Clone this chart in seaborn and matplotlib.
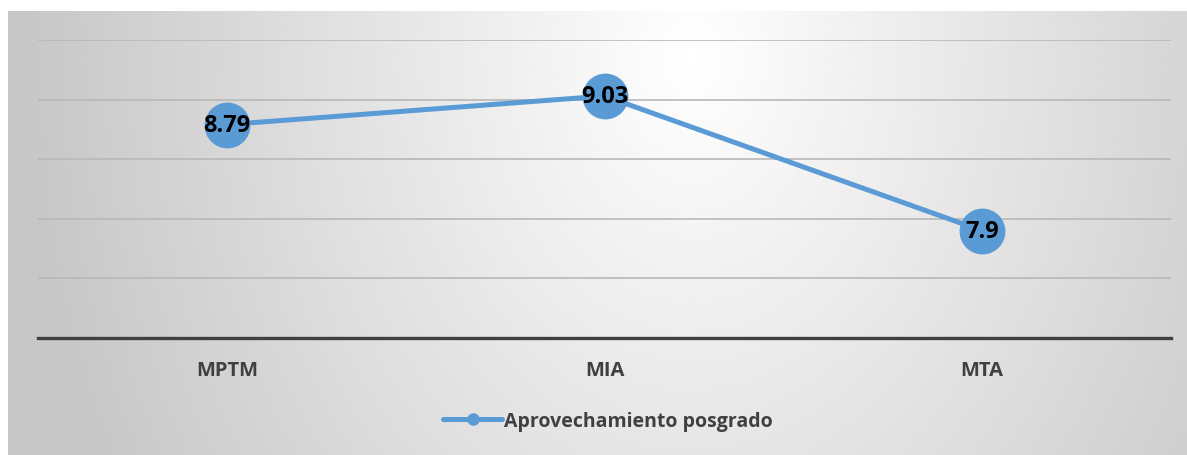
import numpy as np
import pandas as pd
import matplotlib
matplotlib.use("Agg")
import matplotlib.pyplot as plt
from matplotlib.lines import Line2D
import seaborn as sns

# data
programas = ["MPTM", "MIA", "MTA"]
aprovechamiento = [8.79, 9.03, 7.9]
serie = "Aprovechamiento posgrado"

sns.set_theme(style="white")
plt.rcParams['font.family'] = ['Open Sans', 'DejaVu Sans']

W, H = 1187, 456
fig = plt.figure(figsize=(W / 100, H / 100), dpi=100, facecolor='white')

# gradient background of the chart area (light centre, grey edges)
bg = fig.add_axes([8 / W, 0, 1 - 8 / W, 1 - 12 / H])
bg.set_axis_off()
yy, xx = np.mgrid[0:1:200j, 0:1:400j]
d = np.sqrt(((xx - 0.58) / 0.62) ** 2 + ((yy - 0.1) / 2.2) ** 2)
shade = np.clip(1.0 - 0.24 * d, 0.78, 1.0)
bg.imshow(shade, cmap='gray', vmin=0, vmax=1, aspect='auto',
          extent=[0, 1, 1, 0], interpolation='bicubic')

# plot area
ax = fig.add_axes([38 / W, 1 - 339 / H, (1171 - 38) / W, (339 - 41) / H])
ax.patch.set_alpha(0)

df = pd.DataFrame({"programa": programas, "valor": aprovechamiento})
color = '#5b9bd5'
sns.lineplot(data=df, x="programa", y="valor", sort=False, ax=ax,
             color=color, linewidth=3.6, marker='o', markersize=33,
             markeredgewidth=0, legend=False)

for i, v in enumerate(aprovechamiento):
    ax.text(i, v, f"{v:g}", ha='center', va='center', fontsize=17,
            fontweight='bold', color='black')

ax.set_xlim(-0.5, 2.5)
ax.set_ylim(7.0, 9.5)
ax.set_yticks(np.arange(7.5, 9.51, 0.5))
ax.yaxis.grid(True, color='#b8b8b8', linewidth=1.2)
ax.set_axisbelow(True)
ax.tick_params(axis='y', left=False, labelleft=False)
ax.tick_params(axis='x', bottom=False, labelsize=14.5, colors='#404040', pad=10)
for lbl in ax.get_xticklabels():
    lbl.set_fontweight('bold')
ax.set_xlabel("")
ax.set_ylabel("")
for s in ['top', 'right', 'left']:
    ax.spines[s].set_visible(False)
ax.spines['bottom'].set_color('#404040')
ax.spines['bottom'].set_linewidth(2.4)

handle = Line2D([0], [0], color=color, linewidth=3.6, marker='o', markersize=8)
fig.legend([handle], [serie], loc='center', bbox_to_anchor=(608 / W, 1 - 422 / H),
           frameon=False, handlelength=3.0, handletextpad=0.1,
           prop={'weight': 'bold', 'size': 14}, labelcolor='#404040')

fig.savefig("out.png", dpi=100, facecolor='white')
